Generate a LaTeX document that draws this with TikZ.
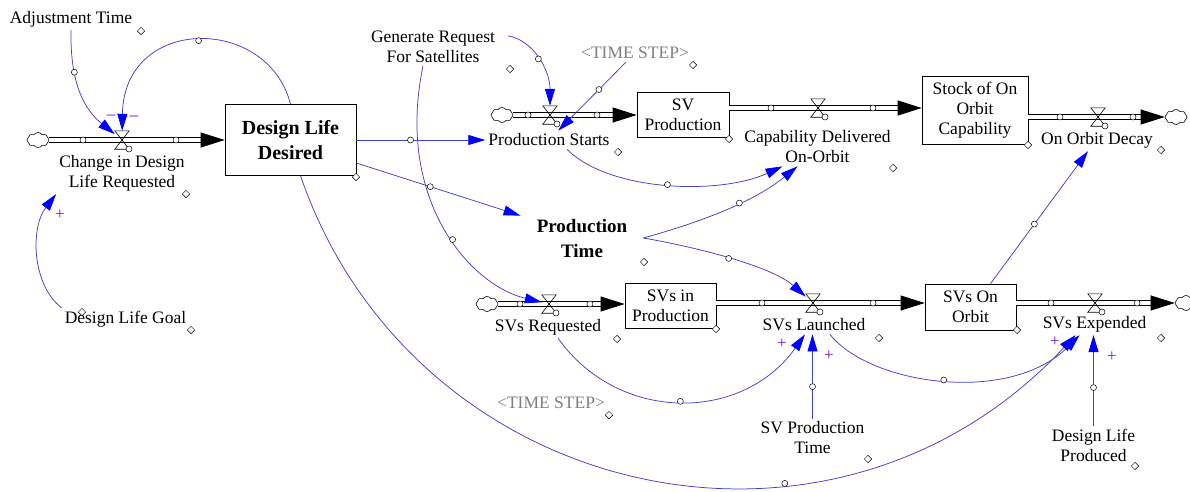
\documentclass[tikz,border=0pt]{standalone}
\usepackage{fontspec}
\setmainfont{Liberation Serif}
\usetikzlibrary{arrows.meta,shapes.symbols,shapes.geometric}

\definecolor{linkblue}{RGB}{64,64,200}
\definecolor{headblue}{RGB}{0,0,255}
\definecolor{signviolet}{RGB}{110,20,220}
\definecolor{ghostgray}{RGB}{128,128,128}

\tikzstyle{stock} = [rectangle, draw=black, line width=0.7pt, fill=white, align=center, inner sep=0pt, font=\fontsize{17.5}{20}\selectfont]
\tikzstyle{var} = [align=center, inner sep=3pt, font=\fontsize{17.5}{20}\selectfont]
\tikzstyle{keyvar} = [align=center, inner sep=3pt, font=\fontsize{19}{25}\selectfont\bfseries]
\tikzstyle{ghost} = [var, text=ghostgray]
\tikzstyle{valvept} = [inner sep=0pt, minimum width=14pt, minimum height=18pt]
\tikzstyle{cloudnode} = [cloud, draw=black, line width=0.6pt, fill=white, cloud puffs=8, cloud puff arc=110, aspect=1.4, minimum width=22pt, minimum height=15pt, inner sep=0pt]
\tikzstyle{pipe} = [draw=black, line width=0.8pt, double=white, double distance=3.8pt]
\tikzstyle{pipetip} = [line width=0.8pt, -{Triangle[length=24pt,width=15pt]}]
\tikzstyle{link} = [draw=linkblue, line width=0.75pt, -{Triangle[length=17pt,width=10pt,color=headblue]}]
\tikzstyle{knob} = [circle, draw=black, fill=white, line width=0.5pt, inner sep=0pt, minimum size=6pt]
\tikzstyle{tag} = [diamond, draw=black, fill=white, line width=0.5pt, inner sep=0pt, minimum size=7.5pt]
\tikzstyle{sign} = [text=signviolet, inner sep=0pt, font=\fontsize{17}{17}\selectfont]

\begin{document}
\begin{tikzpicture}[x=1pt, y=-1pt]
    \useasboundingbox (0,0) rectangle (1190,491);

    % stocks
    \node (dld) [stock, minimum width=131pt, minimum height=71pt, font=\fontsize{20}{25}\selectfont\bfseries] at (290.5,140) {Design Life\\Desired};
    \node (svp) [stock, minimum width=92pt, minimum height=45pt] at (683,115) {SV\\Production};
    \node (soc) [stock, minimum width=106pt, minimum height=68pt] at (975,110) {Stock of On\\Orbit\\Capability};
    \node (sip) [stock, minimum width=91pt, minimum height=45pt] at (670.5,305.5) {SVs in\\Production};
    \node (soo) [stock, minimum width=91pt, minimum height=46pt] at (970.5,307) {SVs On\\Orbit};

    % sources and sinks
    \node (cloudA) [cloudnode] at (38,140) {};
    \node (cloudB) [cloudnode] at (502,115) {};
    \node (cloudC) [cloudnode] at (1176,117) {};
    \node (cloudD) [cloudnode] at (487,304) {};
    \node (cloudE) [cloudnode] at (1186,303) {};

    % valves
    \node (vCDL) [valvept] at (122,140) {};
    \node (vPS) [valvept] at (550,115) {};
    \node (vCD) [valvept] at (818,108) {};
    \node (vOD) [valvept] at (1098,117) {};
    \node (vSR) [valvept] at (549,304) {};
    \node (vSL) [valvept] at (813,303) {};
    \node (vSE) [valvept] at (1095,303) {};

    % variables
    \node (adjt) [var] at (71,19) {Adjustment Time};
    \node (cdl) [var] at (122,173) {Change in Design\\Life Requested};
    \node (dlg) [var] at (125.5,319) {Design Life Goal};
    \node (grs) [var] at (433,47) {Generate Request\\For Satellites};
    \node (ts1) [ghost] at (635,53) {<TIME STEP>};
    \node (ps) [var] at (549,140) {Production Starts};
    \node (cd) [var] at (817.5,147) {Capability Delivered\\On-Orbit};
    \node (od) [var] at (1097,140) {On Orbit Decay};
    \node (pt) [keyvar, inner xsep=16pt] at (582,238) {Production\\Time};
    \node (sr) [var] at (548,327) {SVs Requested};
    \node (sl) [var] at (814,325) {SVs Launched};
    \node (se) [var] at (1094.5,324) {SVs Expended};
    \node (ts2) [ghost] at (551,403) {<TIME STEP>};
    \node (spt) [var] at (812.5,438) {SV Production\\Time};
    \node (dlp) [var] at (1093.5,445) {Design Life\\Produced};

    % flows
    \coordinate (cdend) at (soc.west |- vCD);
    \coordinate (odstart) at (soc.east |- vOD);
    \coordinate (srend) at (sip.west |- vSR);
    \coordinate (slend) at (soo.west |- vSL);
    \draw [pipe, shorten >=23pt] (cloudA) -- (dld.west);
    \draw [pipe, shorten >=23pt] (cloudB) -- (svp.west);
    \draw [pipe, shorten >=23pt] (svp.east |- vCD) -- (cdend);
    \draw [pipe, shorten >=23pt] (odstart) -- (cloudC);
    \draw [pipe, shorten >=23pt] (cloudD) -- (srend);
    \draw [pipe, shorten >=23pt] (sip.east |- vSL) -- (slend);
    \draw [pipe, shorten >=23pt] (soo.east |- vSE) -- (cloudE);
    \draw [pipetip] ([xshift=-24pt]dld.west) -- (dld.west);
    \draw [pipetip] ([xshift=-24pt]svp.west) -- (svp.west);
    \draw [pipetip] ([xshift=-24pt]cdend) -- (cdend);
    \draw [pipetip] ([xshift=-24pt]cloudC.west) -- (cloudC.west);
    \draw [pipetip] ([xshift=-24pt]srend) -- (srend);
    \draw [pipetip] ([xshift=-24pt]slend) -- (slend);
    \draw [pipetip] ([xshift=-24pt]cloudE.west) -- (cloudE.west);

    \foreach \v in {vCDL,vPS,vCD,vOD,vSR,vSL,vSE} {
        \draw [line width=0.6pt] (\v.north west) -- (\v.north east) -- (\v.south west) -- (\v.south east) -- cycle;
        \node (\v-k) [knob] at ([xshift=7pt,yshift=-9pt]\v.center) {};
    }
    \foreach \x/\y [count=\i] in {83/140, 176/140, 528/115, 597/115, 771/108, 873/108, 1060/117, 1133/117, 520/304, 590/304, 762/303, 873/303, 1051/303, 1137/303}
        \node (pk\i) [knob] at (\x,\y) {};

    % links
    \draw [link] (adjt.south) .. controls (70,85) and (85,110) .. (vCDL) node [knob, pos=0.3] (h1) {};
    \draw [link] (dld.north) .. controls (268,15) and (124,15) .. (vCDL) node [knob, pos=0.5] (h2) {};
    \draw [link] (dlg.north west) .. controls (32,285) and (30,228) .. (cdl.south west);
    \draw [link] (dld.east) -- (ps.west) node [knob, pos=0.42] (h3) {};
    \draw [link] ([yshift=-23pt]dld.east) -- (pt.north west) node [knob, pos=0.45] (h4) {};
    \draw [link] ([xshift=10pt,yshift=-8pt]grs.north east) .. controls (533,40) and (550,70) .. (vPS) node [knob, pos=0.5] (h5) {};
    \draw [link] ([xshift=-10pt]grs.south) .. controls (395,200) and (470,285) .. (vSR) node [knob, pos=0.55] (h6) {};
    \draw [link] (ts1) -- (ps) node [knob, pos=0.4] (h7) {};
    \draw [link] ([xshift=18pt]ps.south) .. controls (610,192) and (720,195) .. ([xshift=-35pt]cd.south) node [knob, pos=0.5] (h8) {};
    \draw [link] (pt.east) .. controls (690,225) and (750,205) .. ([xshift=-20pt]cd.south) node [knob, pos=0.62] (h9) {};
    \draw [link] (pt.east) .. controls (690,246) and (770,265) .. (vSL) node [knob, pos=0.5] (h10) {};
    \draw [link] ([xshift=20pt]soo.north) -- ([xshift=-9pt]od.south) node [knob, pos=0.45] (h11) {};
    \draw [link] ([xshift=10pt]sr.south) .. controls (618,423) and (742,423) .. ([xshift=-9pt]sl.south) node [knob, pos=0.5] (h12) {};
    \draw [link] (spt.north) -- (spt.north |- sl.south) node [knob, pos=0.38] (h13) {};
    \draw [link] ([xshift=16pt]sl.south) .. controls (870,385) and (1010,405) .. ([xshift=-15pt]se.south) node [knob, pos=0.5] (h14) {};
    \draw [link] (dlp.north) -- (dlp.north |- se.south) node [knob, pos=0.42] (h15) {};
    \draw [link] ([xshift=10pt]dld.south) .. controls (413,502) and (831,597) .. ([xshift=-19pt]se.south) node [knob, pos=0.66] (h16) {};

    % polarities
    \node (neg1) [sign] at (111,117) {\textendash};
    \node (neg2) [sign] at (134,118) {\textendash};
    \node (pos1) [sign] at (60,215) {+};
    \node (pos2) [sign] at (782,344) {+};
    \node (pos3) [sign] at (829,356) {+};
    \node (pos4) [sign] at (1055,342) {+};
    \node (pos5) [sign] at (1112,357) {+};

    % name handles
    \foreach \x/\y [count=\i] in {141/31, 186/194, 356/177, 191/330, 82/312, 510/69, 693/65, 618/152, 729/139, 893/168, 1028/145, 1161/150, 644/262, 617/339, 716/329, 879/338, 1017/330, 1161/338, 868/459, 1135/466, 609/415}
        \node (tag\i) [tag] at (\x,\y) {};
\end{tikzpicture}
\end{document}
